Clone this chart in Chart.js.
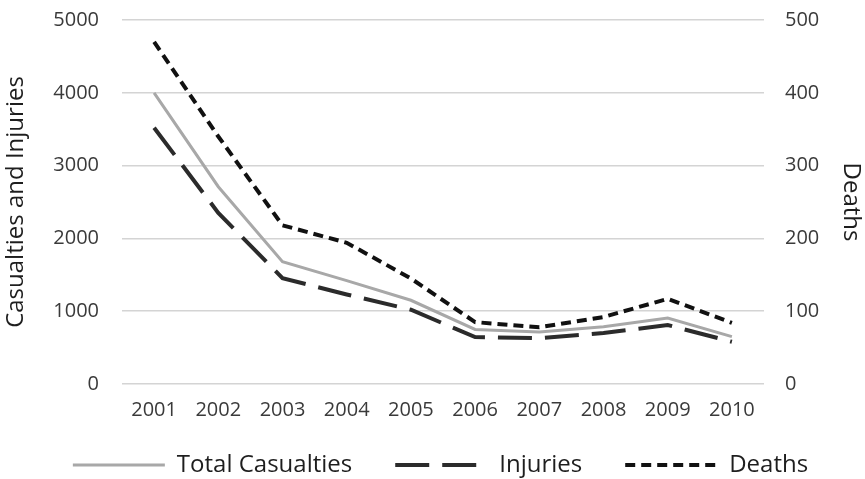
<!DOCTYPE html>
<html>
<head>
<meta charset="utf-8">
<script src="https://cdn.jsdelivr.net/npm/chart.js@4.4.1/dist/chart.umd.min.js"></script>
<style>
  html, body { margin: 0; padding: 0; background: #ffffff; }
  #wrap { width: 865px; height: 479px; position: relative; }
</style>
</head>
<body>
<div id="wrap"><canvas id="chart" width="865" height="479"></canvas></div>
<script>
// Yearly figures, 2001-2010
const years = ["2001", "2002", "2003", "2004", "2005", "2006", "2007", "2008", "2009", "2010"];
const totalCasualties = [4000, 2710, 1680, 1420, 1150, 750, 715, 785, 905, 650];
const injuries = [3520, 2350, 1455, 1230, 1020, 645, 630, 700, 810, 580];
const deaths = [470, 340, 218, 194, 145, 85, 78, 92, 117, 84];

// Axis tick values
const leftTicks = [0, 1000, 2000, 3000, 4000, 5000];
const rightTicks = [0, 100, 200, 300, 400, 500];

const FONT = "'Open Sans', Lato, sans-serif";
const TEXT = "#3a3a3a";

// fixed gutter sizes around the plot area
function fixWidth(w) {
  return (s) => { s.width = w; s.paddingTop = 0; s.paddingBottom = 0; };
}

new Chart(document.getElementById("chart"), {
  type: "line",
  data: {
    labels: years,
    datasets: [
      {
        label: "Total Casualties",
        data: totalCasualties,
        yAxisID: "y",
        borderColor: "#a8a8a8",
        backgroundColor: "#a8a8a8",
        borderWidth: 3,
        pointRadius: 0,
        tension: 0
      },
      {
        label: "Injuries",
        data: injuries,
        yAxisID: "y",
        borderColor: "#2b2b2b",
        backgroundColor: "#2b2b2b",
        borderWidth: 4,
        borderDash: [34, 13],
        pointRadius: 0,
        tension: 0
      },
      {
        label: "Deaths",
        data: deaths,
        yAxisID: "y1",
        borderColor: "#111111",
        backgroundColor: "#111111",
        borderWidth: 4,
        borderDash: [10, 6],
        pointRadius: 0,
        tension: 0
      }
    ]
  },
  options: {
    responsive: false,
    animation: false,
    layout: { autoPadding: false, padding: { top: 20, bottom: -8, left: 0, right: -16 } },
    plugins: {
      tooltip: { enabled: false },
      legend: {
        position: "bottom",
        labels: {
          usePointStyle: true,
          pointStyle: "line",
          pointStyleWidth: 92,
          padding: 31,
          color: "#1e1e1e",
          font: { family: FONT, size: 24 },
          // legend swatches carry each series' own dash pattern and width;
          // the non-final entries get a little trailing room
          generateLabels: (chart) => chart.data.datasets.map((ds, i, all) => ({
            text: i < all.length - 1 ? ds.label + "\u2002" : ds.label,
            datasetIndex: i,
            hidden: false,
            pointStyle: "line",
            strokeStyle: ds.borderColor,
            fillStyle: ds.borderColor,
            fontColor: "#1e1e1e",
            lineWidth: ds.borderWidth,
            lineDash: ds.borderDash || [],
            lineCap: "butt"
          }))
        }
      }
    },
    scales: {
      x: {
        offset: true,
        grid: { display: false, drawTicks: false },
        border: { display: false },
        ticks: { color: TEXT, font: { family: FONT, size: 20 }, padding: 14, maxRotation: 0 },
        afterFit: (s) => { s.height = 38; }
      },
      y: {
        position: "left",
        min: 0,
        max: 5000,
        afterBuildTicks: (s) => { s.ticks = leftTicks.map(v => ({ value: v })); },
        grid: { color: "#d4d4d4", lineWidth: 1.5, drawTicks: false },
        border: { display: false },
        ticks: { color: TEXT, font: { family: FONT, size: 20 }, padding: 23, callback: (v) => String(v) },
        title: {
          display: true,
          text: "Casualties and Injuries",
          color: "#1e1e1e",
          font: { family: FONT, size: 24 },
          padding: { top: 2, bottom: 0 }
        },
        afterFit: fixWidth(122)
      },
      y1: {
        position: "right",
        min: 0,
        max: 500,
        afterBuildTicks: (s) => { s.ticks = rightTicks.map(v => ({ value: v })); },
        grid: { display: false, drawTicks: false },
        border: { display: false },
        ticks: { color: TEXT, font: { family: FONT, size: 20 }, padding: 21, callback: (v) => String(v) },
        title: {
          display: true,
          text: "Deaths",
          color: "#1e1e1e",
          font: { family: FONT, size: 24 },
          padding: { top: 16, bottom: 0 }
        },
        afterFit: fixWidth(117)
      }
    }
  }
});
</script>
</body>
</html>
